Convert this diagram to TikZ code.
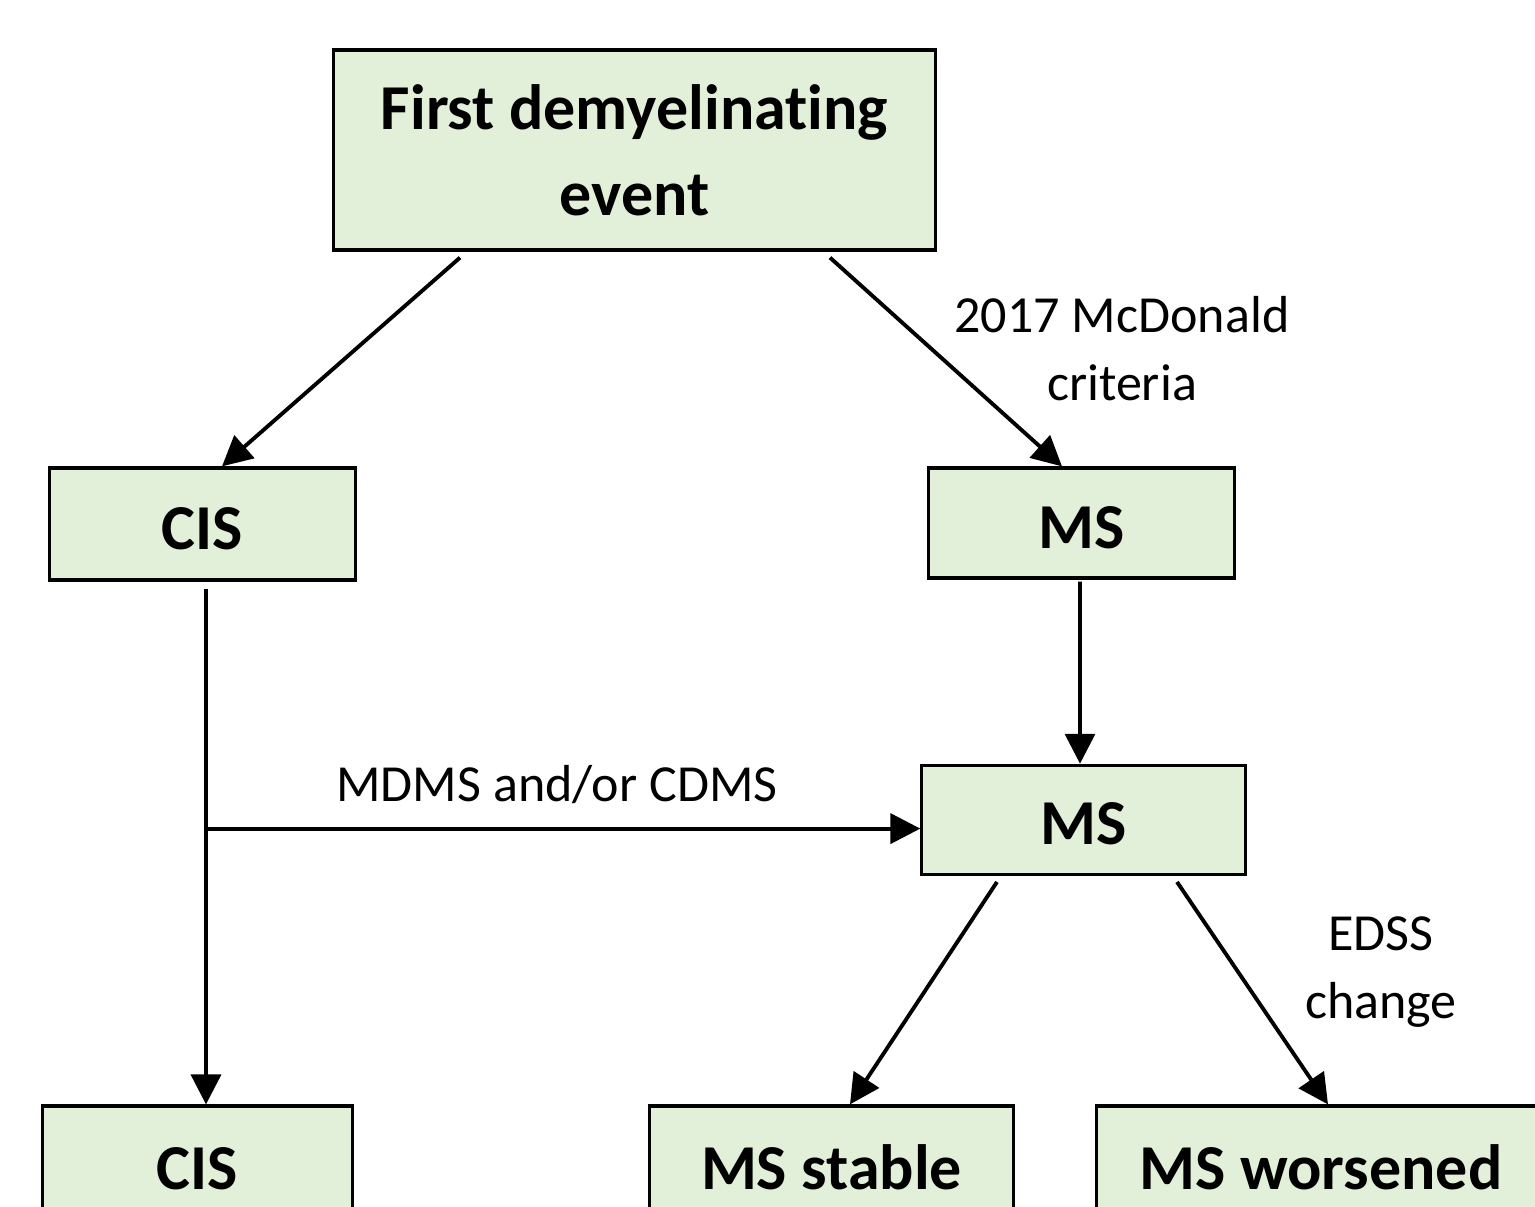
\documentclass[tikz,border=0pt]{standalone}
\usepackage{fontspec}
\setmainfont{Carlito}[Ligatures=NoCommon]
\usepackage{tikz}
\usetikzlibrary{positioning,arrows.meta,calc}
\definecolor{boxgreen}{HTML}{E2EFD9}

\begin{document}
\begin{tikzpicture}[x=0.01cm,y=-0.01cm,>={Triangle[length=8.5pt,width=8.5pt]},
  box/.style={rectangle,draw=black,line width=0.9pt,fill=boxgreen,align=center,
    font=\fontsize{18.2}{24.4}\selectfont\bfseries,inner sep=0pt},
  one/.style={box,text height=0.5cm,text depth=0pt},
  lbl/.style={align=center,font=\fontsize{14.8}{19.3}\selectfont,inner sep=0pt},
  arc/.style={->,line width=1.1pt}]
  \clip (0,0) rectangle (1535,1207);
  \node[box,minimum width=6.01cm,minimum height=2cm] (first) at (634.5,150) {First demyelinating\\event};
  \node[one,minimum width=3.05cm,minimum height=1.12cm] (cis1) at (202.5,524) {CIS};
  \node[one,minimum width=3.05cm,minimum height=1.10cm] (ms1) at (1081.5,523) {MS};
  \node[one,minimum width=3.23cm,minimum height=1.09cm,below=1.84cm of ms1,xshift=0.02cm] (ms2) {MS};
  \node[one,minimum width=3.09cm,minimum height=1.16cm] (cis2) at (197.5,1164) {CIS};
  \node[one,minimum width=3.63cm,minimum height=1.16cm] (stable) at (831.5,1164) {MS stable};
  \node[one,minimum width=4.48cm,minimum height=1.16cm] (worse) at (1321,1164) {MS worsened};
  % labels
  \node[lbl] (mcd) at (1122,349) {2017 McDonald\\criteria};
  \node[lbl] (mdms) at (557,785) {MDMS and/or CDMS};
  \node[lbl] (edss) at (1381,972) {EDSS\\change};
  \coordinate (split) at ($(cis1.south)+(3.5,247)$);
  % connectors
  \draw[arc] ($(first.south)+(-174.5,6)$) -- ($(cis1.north)+(19.5,0)$);
  \draw[arc] ($(first.south)+(195.5,6)$) -- ($(ms1.north)+(-19.5,0)$);
  \draw[arc] ($(ms1.south)+(-1.5,2)$) -- ($(ms2.north)+(-3.5,0)$);
  \draw[arc] ($(cis1.south)+(3.5,7)$) -- ($(cis2.north)+(8.5,0)$);
  \draw[arc] (split) -- (split -| ms2.west);
  \draw[arc] ($(ms2.south)+(-86.5,6)$) -- ($(stable.north)+(18.5,0)$);
  \draw[arc] ($(ms2.south)+(93.5,6)$) -- ($(worse.north)+(7,0)$);
\end{tikzpicture}
\end{document}
